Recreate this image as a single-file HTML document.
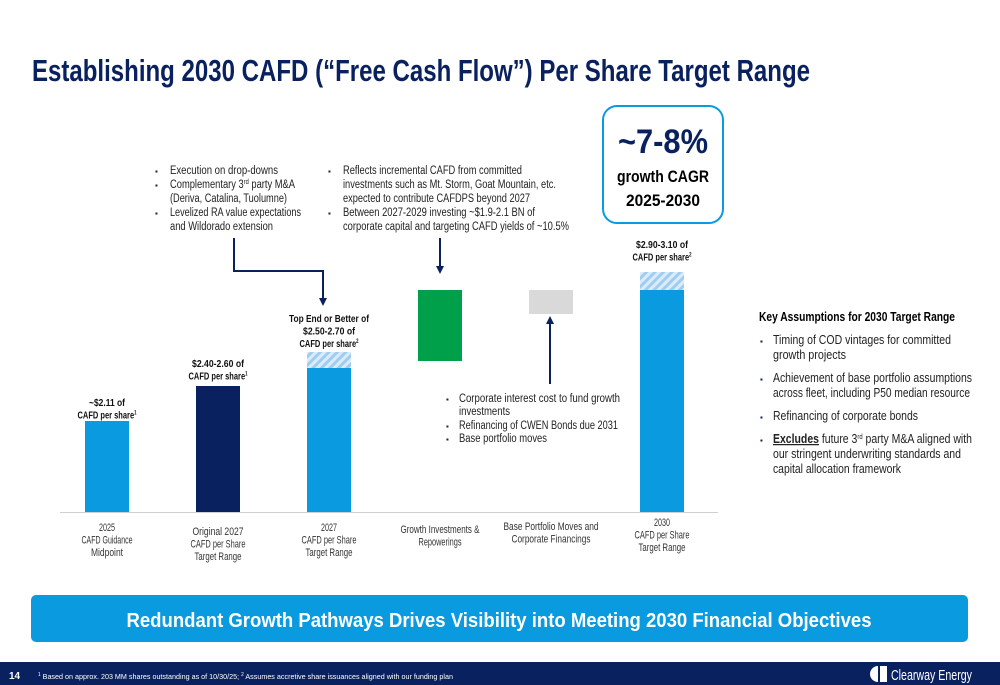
<!DOCTYPE html>
<html><head><meta charset="utf-8"><style>
html,body{margin:0;padding:0;background:#fff;}
svg{display:block;font-family:"Liberation Sans",sans-serif;}
</style></head><body>
<svg id="slide" width="1000" height="685" viewBox="0 0 1000 685">
<defs>
<pattern id="hatch" patternUnits="userSpaceOnUse" width="6" height="6" patternTransform="rotate(45)">
<rect width="6" height="6" fill="#dcebfa"/><rect width="3" height="6" fill="#9fcdf0"/>
</pattern>
</defs>
<text x="32" y="81" font-size="31" font-weight="bold" fill="#0a2160" textLength="778" lengthAdjust="spacingAndGlyphs">Establishing 2030 CAFD (“Free Cash Flow”) Per Share Target Range</text>

<g>
<rect x="603" y="106" width="120" height="117" rx="14" fill="#fff" stroke="#0a9ae0" stroke-width="2"/>
<text x="663" y="153" font-size="34" font-weight="bold" fill="#0a2160" text-anchor="middle" textLength="90" lengthAdjust="spacingAndGlyphs">~7-8%</text>
<text x="663" y="182" font-size="17" font-weight="bold" fill="#000" text-anchor="middle" textLength="92" lengthAdjust="spacingAndGlyphs">growth CAGR</text>
<text x="663" y="206" font-size="17" font-weight="bold" fill="#000" text-anchor="middle" textLength="74" lengthAdjust="spacingAndGlyphs">2025-2030</text>
</g>

<g font-size="11.5" fill="#222">
<text x="155" y="174" font-size="8">▪</text><text x="170" y="174" textLength="108" lengthAdjust="spacingAndGlyphs">Execution on drop-downs</text>
<text x="155" y="188" font-size="8">▪</text><text x="170" y="188" textLength="125" lengthAdjust="spacingAndGlyphs">Complementary 3<tspan font-size="7" dy="-4">rd</tspan><tspan dy="4"> party M&amp;A</tspan></text>
<text x="170" y="202" textLength="117" lengthAdjust="spacingAndGlyphs">(Deriva, Catalina, Tuolumne)</text>
<text x="155" y="216" font-size="8">▪</text><text x="170" y="216" textLength="131" lengthAdjust="spacingAndGlyphs">Levelized  RA value expectations</text>
<text x="170" y="230" textLength="103" lengthAdjust="spacingAndGlyphs">and Wildorado extension</text>
</g>
<g font-size="11.5" fill="#222">
<text x="328" y="174" font-size="8">▪</text><text x="343" y="174" textLength="179" lengthAdjust="spacingAndGlyphs">Reflects incremental CAFD from committed</text>
<text x="343" y="188" textLength="213" lengthAdjust="spacingAndGlyphs">investments such as Mt. Storm, Goat Mountain, etc.</text>
<text x="343" y="202" textLength="187" lengthAdjust="spacingAndGlyphs">expected to contribute CAFDPS beyond 2027</text>
<text x="328" y="216" font-size="8">▪</text><text x="343" y="216" textLength="192" lengthAdjust="spacingAndGlyphs">Between 2027-2029 investing ~$1.9-2.1 BN of</text>
<text x="343" y="230" textLength="226" lengthAdjust="spacingAndGlyphs">corporate capital and targeting CAFD yields of ~10.5%</text>
</g>

<g id="chart"></g>

<g font-size="11.5" fill="#222">
<text x="446" y="402" font-size="8">▪</text><text x="459" y="402" textLength="161" lengthAdjust="spacingAndGlyphs">Corporate interest  cost to fund growth</text>
<text x="459" y="415" textLength="51" lengthAdjust="spacingAndGlyphs">investments</text>
<text x="446" y="429" font-size="8">▪</text><text x="459" y="429" textLength="159" lengthAdjust="spacingAndGlyphs">Refinancing of CWEN Bonds due 2031</text>
<text x="446" y="442" font-size="8">▪</text><text x="459" y="442" textLength="88" lengthAdjust="spacingAndGlyphs">Base portfolio moves</text>
</g>

<g fill="#222">
<text x="759" y="321" font-size="12.5" font-weight="bold" fill="#000" textLength="196" lengthAdjust="spacingAndGlyphs">Key Assumptions for 2030 Target Range</text>
<g font-size="12.5">
<text x="760" y="344" font-size="8" fill="#0a2160">▪</text><text x="773" y="344" textLength="178" lengthAdjust="spacingAndGlyphs">Timing of COD vintages for committed</text>
<text x="773" y="359" textLength="73" lengthAdjust="spacingAndGlyphs">growth projects</text>
<text x="760" y="382" font-size="8" fill="#0a2160">▪</text><text x="773" y="382" textLength="199" lengthAdjust="spacingAndGlyphs">Achievement of base portfolio assumptions</text>
<text x="773" y="397" textLength="197" lengthAdjust="spacingAndGlyphs">across fleet, including P50 median resource</text>
<text x="760" y="420" font-size="8" fill="#0a2160">▪</text><text x="773" y="420" textLength="145" lengthAdjust="spacingAndGlyphs">Refinancing of corporate bonds</text>
<text x="760" y="443" font-size="8" fill="#0a2160">▪</text><text x="773" y="443" textLength="199" lengthAdjust="spacingAndGlyphs"><tspan font-weight="bold" text-decoration="underline">Excludes</tspan> future 3<tspan font-size="7" dy="-4">rd</tspan><tspan dy="4"> party M&amp;A aligned with</tspan></text>
<text x="773" y="458" textLength="188" lengthAdjust="spacingAndGlyphs">our stringent underwriting standards and</text>
<text x="773" y="473" textLength="128" lengthAdjust="spacingAndGlyphs">capital allocation framework</text>
</g>
</g>

<g>
<rect x="31" y="595" width="937" height="47" rx="5" fill="#0a9ae0"/>
<text x="499" y="627" font-size="20" font-weight="bold" fill="#fff" text-anchor="middle" textLength="745" lengthAdjust="spacingAndGlyphs">Redundant Growth Pathways Drives Visibility into Meeting 2030 Financial Objectives</text>
</g>

<g>
<rect x="0" y="662" width="1000" height="23" fill="#0a2160"/>
<text x="9" y="679" font-size="10" font-weight="bold" fill="#fff">14</text>
<text x="38" y="679" font-size="7.5" fill="#fff" textLength="415" lengthAdjust="spacingAndGlyphs"><tspan font-size="5" dy="-3">1</tspan><tspan dy="3"> Based on approx. 203 MM shares outstanding as of 10/30/25; </tspan><tspan font-size="5" dy="-3">2</tspan><tspan dy="3"> Assumes accretive share issuances aligned with our funding plan</tspan></text>
<g>
<path d="M878 666 a8 8 0 0 0 0 16 z" fill="#fff"/><rect x="880" y="666" width="7" height="16" fill="#fff"/>
<text x="891" y="680" font-size="15" fill="#fff" textLength="81" lengthAdjust="spacingAndGlyphs">Clearway Energy</text>
</g>
</g>
</svg>
<script>
// values in $ CAFD per share
const categories = ["2025|CAFD Guidance|Midpoint","Original 2027|CAFD per Share|Target Range","2027|CAFD per Share|Target Range","Growth Investments &|Repowerings","Base Portfolio Moves and|Corporate Financings","2030|CAFD per Share|Target Range"];
const barBase = [0, 0, 0, 2.71, 3.18, 0];
const barTop = [2.11, 2.46, 2.64, 3.42, 3.42, 3.42];
const hatchTop = [null, null, 2.80, null, null, 3.60];
const barColors = ["#0a9ae0","#0a2160","#0a9ae0","#00a04a","#d9d9d9","#0a9ae0"];
const valueLabels = [["~$2.11 of","CAFD per share|1"],["$2.40-2.60 of","CAFD per share|1"],["Top End or Better of","$2.50-2.70 of","CAFD per share|2"],[],[],["$2.90-3.10 of","CAFD per share|2"]];
const labelTopY = [406,367,322,null,null,248];

const NS="http://www.w3.org/2000/svg";
const g=document.getElementById('chart');
const baseline=512, vMin=1.2, k=100;
function y(v){ if(v<=0) return baseline; return baseline-(v-vMin)*k; }
function x(i){ return 85+i*111; }
const bw=44;
function el(t,a){const e=document.createElementNS(NS,t);for(const n in a)e.setAttribute(n,a[n]);g.appendChild(e);return e;}

const ax=el('line',{x1:60,x2:718,y1:baseline+0.5,y2:baseline+0.5,stroke:'#d0d0d0','stroke-width':1});



categories.forEach((c,i)=>{
  if(hatchTop[i]!=null){
    const h=el('rect',{x:x(i),y:y(hatchTop[i]),width:bw,height:y(barTop[i])-y(hatchTop[i]),fill:'url(#hatch)'});
    
    
  }
  const r=el('rect',{x:x(i),y:y(barTop[i]),width:bw,height:y(barBase[i])-y(barTop[i]),fill:barColors[i]});
  
  
  const lines=c.split('|');
  const sy = lines.length===3 ? (i===5?526:i===1?535:531) : (i===4?530:533);
  lines.forEach((l,j)=>{
    const t=el('text',{x:x(i)+bw/2,y:sy+j*12.5,'font-size':11,fill:'#333','text-anchor':'middle'});
    t.textContent=l;
    t.setAttribute('textLength',Math.round(l.length*3.95));
    t.setAttribute('lengthAdjust','spacingAndGlyphs');
    
    
  });
  if(labelTopY[i]!=null){
    valueLabels[i].forEach((l,j)=>{
      const t=el('text',{x:x(i)+bw/2,y:labelTopY[i]+j*12.5,'font-size':10.5,'font-weight':'bold',fill:'#111','text-anchor':'middle'});
      const p=l.split('|');
      t.textContent=p[0];
      if(p[1]){const s=document.createElementNS(NS,'tspan');s.setAttribute('font-size','6');s.setAttribute('dy','-4');s.textContent=p[1];t.appendChild(s);}
      t.setAttribute('textLength',Math.round(p[0].length*4.0+(p[1]?3:0)));
      t.setAttribute('lengthAdjust','spacingAndGlyphs');
      
      
    });
  }
});
function arrow(d,tip,up,name){
  const p=el('path',{d:d,fill:'none',stroke:'#0a2160','stroke-width':2});
  
  
  const a=el('path',{d:up?`M${tip[0]-4} ${tip[1]+8} L${tip[0]} ${tip[1]} L${tip[0]+4} ${tip[1]+8}Z`:`M${tip[0]-4} ${tip[1]-8} L${tip[0]} ${tip[1]} L${tip[0]+4} ${tip[1]-8}Z`,fill:'#0a2160'});
  
  
}
arrow('M234 238 V271 H323 V300',[323,306],false,'elbow-arrow');
arrow('M440 238 V268',[440,274],false,'growth-arrow');
arrow('M550 384 V322',[550,316],true,'financing-arrow');
</script>
</body></html>
